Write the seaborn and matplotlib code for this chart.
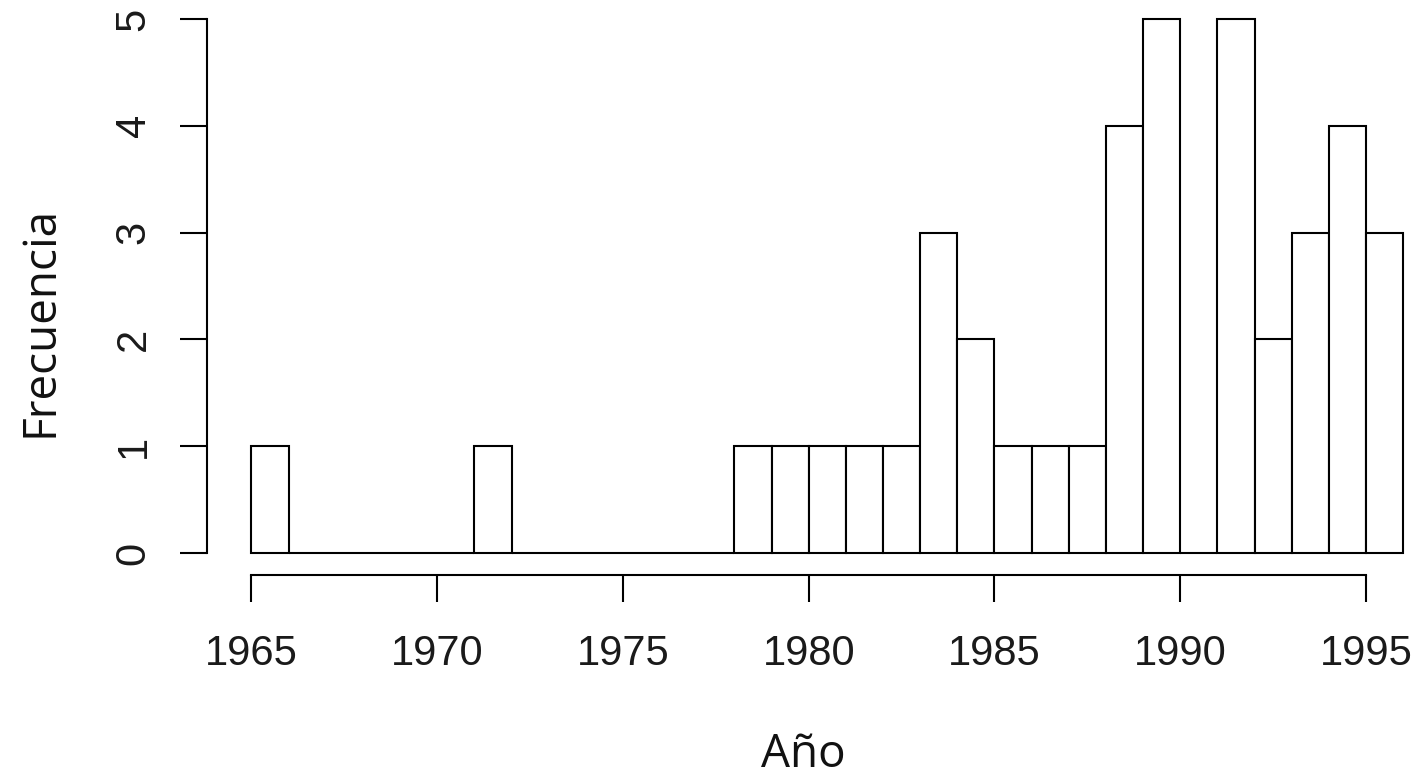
import numpy as np
import pandas as pd
import seaborn as sns
import matplotlib
matplotlib.use("Agg")
import matplotlib.pyplot as plt

# one bin per year, 1965..1995
years = list(range(1965, 1996))
counts = [1, 0, 0, 0, 0, 0, 1, 0, 0, 0, 0, 0, 0, 1, 1, 1, 1, 1, 3, 2,
          1, 1, 1, 4, 5, 0, 5, 2, 3, 4, 3]
x_ticks = [1965, 1970, 1975, 1980, 1985, 1990, 1995]
y_ticks = [0, 1, 2, 3, 4, 5]

df = pd.DataFrame({"year": years, "n": counts})

sns.set_style("white")
plt.rcParams['font.family'] = ['Liberation Sans', 'DejaVu Sans']

W, H = 1418, 780
fig = plt.figure(figsize=(W / 100, H / 100), dpi=100)
# axes box: left edge = y axis line, bottom edge = x axis line
ax = fig.add_axes([207 / W, (H - 575) / H, (W - 207) / W, 575 / H])

lw = 1.5
sns.histplot(data=df, x="year", weights="n", binwidth=1,
             binrange=(years[0], years[-1] + 1),
             color="white", edgecolor="black", linewidth=lw, alpha=1,
             ax=ax)

px_per_year = (1366 - 251.5) / 30
px_per_unit = (553 - 19) / 5
ax.set_xlim(1965 - (251.5 - 207) / px_per_year, 1965 + (W - 251.5) / px_per_year)
ax.set_ylim(-(575 - 553) / px_per_unit, 553 / px_per_unit)

ax.set_xticks(x_ticks)
ax.set_yticks(y_ticks)
ax.set_yticklabels([str(v) for v in y_ticks], rotation=90, va="center")
ax.tick_params(axis="both", length=19.5, width=lw, color="black",
               labelsize=30, labelcolor="#1a1a1a", direction="out",
               bottom=True, left=True)
ax.tick_params(axis="x", pad=23)
ax.tick_params(axis="y", pad=19)
ax.set_xlabel("")
ax.set_ylabel("")

for s in ["top", "right"]:
    ax.spines[s].set_visible(False)
for s in ["left", "bottom"]:
    ax.spines[s].set_linewidth(lw)
    ax.spines[s].set_color("black")
ax.spines["left"].set_bounds(0, 5)
ax.spines["bottom"].set_bounds(1965, 1995)

fig.text(41 / W, (H - 321.5) / H, "Frecuencia", rotation=90, ha="center",
         va="center", fontsize=33, color="#111111",
         family=["Open Sans", "DejaVu Sans"])
fig.text(803.5 / W, 2 / H, "Año", ha="center", va="bottom",
         fontsize=33, color="#111111", family=["Open Sans", "DejaVu Sans"])

fig.savefig("out.png", dpi=100, facecolor="white")
